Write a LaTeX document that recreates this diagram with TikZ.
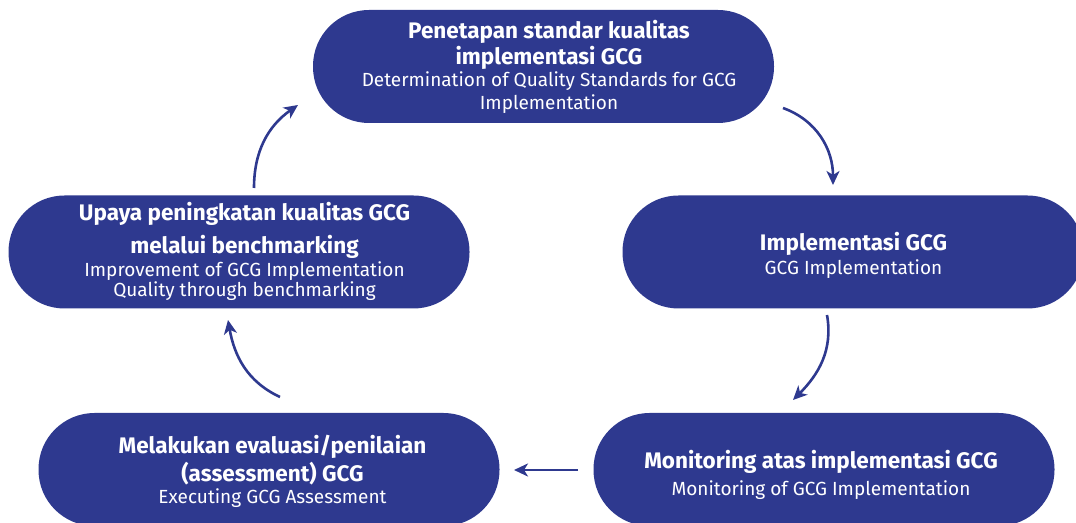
\documentclass[tikz,border=0pt]{standalone}
\usepackage{fontspec}
\setmainfont{Fira Sans}
\usetikzlibrary{arrows.meta}
\definecolor{gcgblue}{RGB}{46,57,143}
\begin{document}
\begin{tikzpicture}[x=1pt,y=1pt,
  pill/.style={fill=gcgblue, draw=none, rounded corners=56pt, minimum width=461pt, minimum height=113pt, inner sep=0pt},
  ttl/.style={text=white, anchor=base, inner sep=0pt, font=\bfseries\fontsize{22.5}{26}\selectfont},
  sub/.style={text=white, anchor=base, inner sep=0pt, font=\fontsize{19}{23}\selectfont},
  flow/.style={draw=gcgblue, line width=2.6pt, -{Stealth[length=14pt,width=13pt,inset=4pt]}}]
\useasboundingbox (0,0) rectangle (1076,522);
\clip (0,0) rectangle (1076,522);
% boxes
\node[pill] (top) at (543.5,455.5) {};
\node[pill] (right) at (853,270) {};
\node[pill] (left) at (239,270) {};
\node[pill] (botl) at (269,52.5) {};
\node[pill] (botr) at (824,52.5) {};
% texts
\node[ttl] (top1) at (549,483) {Penetapan standar kualitas};
\node[ttl] (top2) at (549,457) {implementasi GCG};
\node[sub] (top3) at (549,435) {Determination of Quality Standards for GCG};
\node[sub] (top4) at (549,412) {Implementation};
\node[ttl] (right1) at (853.5,271) {Implementasi GCG};
\node[sub] (right2) at (853.5,247) {GCG Implementation};
\node[ttl] (left1) at (244.5,301) {Upaya peningkatan kualitas GCG};
\node[ttl] (left2) at (244.5,268) {melalui benchmarking};
\node[sub] (left3) at (244.5,245) {Improvement of GCG Implementation};
\node[sub] (left4) at (244.5,225) {Quality through benchmarking};
\node[ttl] (botl1) at (272.5,68) {Melakukan evaluasi/penilaian};
\node[ttl] (botl2) at (272.5,41) {(assessment) GCG};
\node[sub] (botl3) at (272.5,18) {Executing GCG Assessment};
\node[ttl] (botr1) at (821,53) {Monitoring atas implementasi GCG};
\node[sub] (botr2) at (821,27) {Monitoring of GCG Implementation};
% connectors
\coordinate (a1s) at (254,334);
\coordinate (a1e) at (298,417);
\coordinate (a2s) at (783,414);
\coordinate (a2e) at (833,337);
\coordinate (a3s) at (827,207);
\coordinate (a3e) at (793,122);
\coordinate (a4s) at (578,52);
\coordinate (a4e) at (514,52);
\coordinate (a5s) at (280,125);
\coordinate (a5e) at (228,202);
\draw[flow] (a1s) to[out=90,in=215] (a1e);
\draw[flow] (a2s) to[out=-20,in=90] (a2e);
\draw[flow] (a3s) to[out=-80,in=45] (a3e);
\draw[flow] (a4s) -- (a4e);
\draw[flow] (a5s) to[out=155,in=-80] (a5e);
\end{tikzpicture}
\end{document}
